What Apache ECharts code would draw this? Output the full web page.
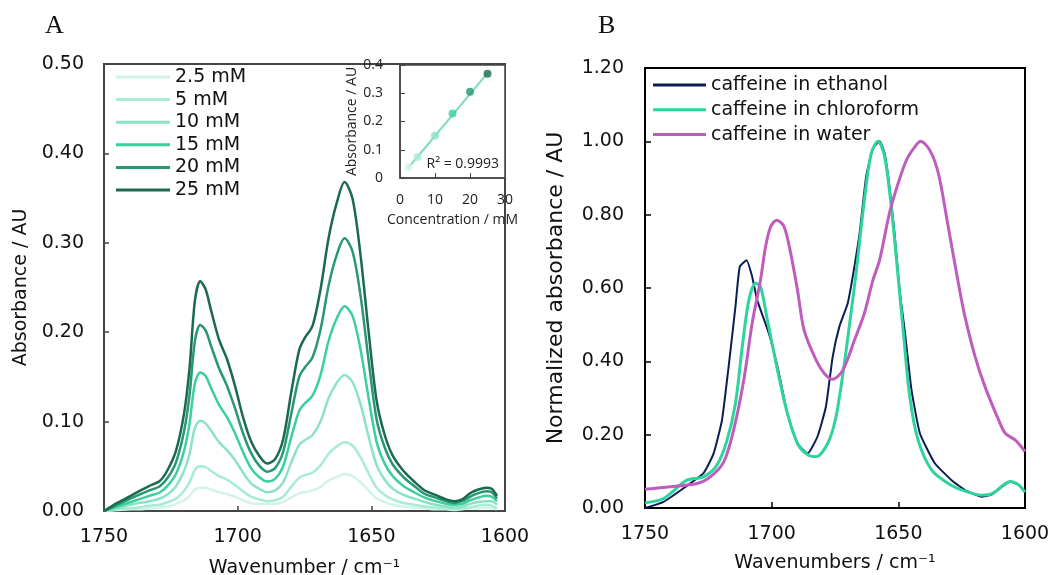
<!DOCTYPE html>
<html><head><meta charset="utf-8">
<script src="https://cdn.jsdelivr.net/npm/echarts@6/dist/echarts.min.js"></script>
<style>html,body{margin:0;padding:0;background:#fff}#c{width:1052px;height:575px}</style>
</head><body><div id="c"></div><script>
// ---------- Panel A data ----------
const wnA = [1750,1745,1740,1737,1733,1729,1726,1723,1720,1718,1716,1714,1712,1710,1707,1704,1701,1698,1695,1692,1689,1686,1683,1680,1677,1675,1672,1669,1666,1663,1660,1657,1654,1651,1648,1645,1642,1638,1634,1630,1626,1622,1619,1616,1613,1610,1607,1605,1603];
const abs2_5 = [0,0.001,0.002,0.002,0.003,0.004,0.005,0.008,0.012,0.017,0.024,0.026,0.026,0.024,0.021,0.019,0.016,0.012,0.009,0.008,0.0075,0.008,0.010,0.015,0.020,0.021,0.023,0.027,0.034,0.038,0.041,0.039,0.032,0.023,0.014,0.010,0.007,0.005,0.004,0.003,0.002,0.002,0.001,0.002,0.003,0.003,0.004,0.003,0.002];
const abs5 = [0,0.002,0.003,0.004,0.006,0.007,0.010,0.014,0.023,0.032,0.046,0.050,0.049,0.045,0.039,0.035,0.029,0.022,0.016,0.013,0.011,0.012,0.016,0.027,0.037,0.040,0.043,0.051,0.064,0.072,0.077,0.073,0.060,0.042,0.026,0.018,0.013,0.009,0.007,0.005,0.004,0.003,0.002,0.003,0.004,0.006,0.007,0.006,0.003];
const abs10 = [0,0.003,0.007,0.009,0.011,0.014,0.019,0.028,0.045,0.064,0.093,0.101,0.098,0.090,0.077,0.068,0.057,0.043,0.031,0.025,0.021,0.023,0.032,0.054,0.074,0.079,0.085,0.100,0.126,0.143,0.152,0.144,0.119,0.083,0.051,0.035,0.025,0.018,0.014,0.010,0.007,0.005,0.004,0.005,0.008,0.010,0.011,0.011,0.007];
const abs15 = [0,0.005,0.010,0.013,0.017,0.021,0.029,0.042,0.068,0.098,0.143,0.155,0.151,0.138,0.119,0.105,0.087,0.066,0.048,0.038,0.033,0.036,0.050,0.082,0.112,0.120,0.129,0.152,0.190,0.215,0.229,0.218,0.180,0.126,0.077,0.053,0.039,0.028,0.021,0.015,0.011,0.008,0.007,0.008,0.012,0.015,0.017,0.016,0.011];
const abs20 = [0,0.007,0.014,0.018,0.023,0.028,0.038,0.055,0.090,0.130,0.190,0.208,0.202,0.185,0.160,0.140,0.115,0.087,0.065,0.051,0.044,0.048,0.066,0.108,0.150,0.160,0.172,0.203,0.252,0.286,0.305,0.290,0.240,0.168,0.102,0.071,0.052,0.038,0.028,0.019,0.015,0.011,0.009,0.011,0.016,0.020,0.022,0.021,0.014];
const abs25 = [0,0.009,0.017,0.022,0.028,0.034,0.047,0.068,0.110,0.160,0.235,0.257,0.248,0.225,0.192,0.170,0.140,0.105,0.078,0.062,0.053,0.058,0.080,0.132,0.180,0.193,0.207,0.248,0.305,0.344,0.368,0.349,0.285,0.200,0.123,0.085,0.062,0.045,0.033,0.023,0.018,0.013,0.011,0.013,0.020,0.024,0.026,0.025,0.017];
const concNames = ['2.5 mM','5 mM','10 mM','15 mM','20 mM','25 mM'];
const yTicksA = [0, 0.1, 0.2, 0.3, 0.4, 0.5];
// inset calibration
const concValues = [2.5, 5, 10, 15, 20, 25];
const peakAbs = [0.038, 0.074, 0.150, 0.228, 0.305, 0.369];
const trendConc = [2.5, 25];
const trendAbs = [0.038, 0.371];
const r2Label = 'R² = 0.9993';
// ---------- Panel B data ----------
const wnEth = [1750,1742.7,1734.8,1726.9,1722.9,1719.6,1717,1714.3,1712.6,1709.9,1707.7,1705.7,1701.1,1697.7,1693.8,1689.8,1685.8,1681.9,1678.6,1675.9,1673.3,1670,1668,1665.3,1662.7,1660,1657.4,1655.4,1653.5,1651.5,1649.5,1647.5,1644.8,1641.5,1635.6,1629,1623.7,1617,1613,1605.8,1602.5,1600];
const normEth = [0.000,0.017,0.054,0.095,0.149,0.240,0.385,0.549,0.658,0.676,0.631,0.567,0.476,0.385,0.258,0.176,0.149,0.195,0.276,0.413,0.494,0.558,0.631,0.749,0.904,0.981,1.000,0.967,0.876,0.749,0.594,0.485,0.322,0.204,0.122,0.076,0.049,0.031,0.037,0.072,0.063,0.043];
const wnChl = [1750,1742.7,1733.5,1726.9,1721.6,1717.6,1714.3,1711.6,1709,1706.3,1704.4,1701.7,1697.7,1693.8,1689.8,1685.8,1682.5,1677.9,1674.6,1671.3,1668.7,1666.7,1663.4,1660.7,1658,1655.4,1652.8,1650.1,1648.1,1645.5,1642.2,1636.9,1630.3,1623.7,1617,1613,1605.8,1602.5,1600];
const normChl = [0.014,0.026,0.076,0.085,0.117,0.185,0.285,0.440,0.567,0.613,0.604,0.513,0.376,0.258,0.176,0.145,0.140,0.176,0.249,0.395,0.531,0.640,0.840,0.967,1.000,0.958,0.822,0.631,0.485,0.304,0.185,0.104,0.067,0.046,0.035,0.039,0.072,0.063,0.043];
const wnWat = [1750,1740.1,1729.5,1724.2,1718.9,1715,1711,1707.7,1704.4,1702.4,1700.4,1698,1695.1,1692.5,1689.8,1687.2,1682.5,1679.2,1675.9,1671.9,1667.3,1663.4,1660,1657.4,1653.5,1650.1,1646.8,1643.5,1641.2,1637.6,1634.2,1630.3,1626.3,1623.7,1619.7,1615.8,1610.4,1607.8,1603.8,1600];
const normWat = [0.051,0.058,0.067,0.085,0.126,0.213,0.349,0.504,0.622,0.713,0.767,0.785,0.767,0.695,0.594,0.485,0.404,0.367,0.351,0.376,0.458,0.531,0.622,0.676,0.804,0.885,0.949,0.985,1.000,0.976,0.913,0.767,0.613,0.522,0.413,0.331,0.240,0.204,0.185,0.154];
const solventNames = ['caffeine in ethanol','caffeine in chloroform','caffeine in water'];
const yTicksB = [0, 0.2, 0.4, 0.6, 0.8, 1.0, 1.2];

// ---------- styles ----------
const concColors = ['#d2f4e7','#a8ecd4','#8be3c4','#3ccf9c','#27986f','#1b6a4f'];
const solventColors = ['#0b1d57','#2fd39e','#bf5dbf'];
const FONT = 'DejaVu Sans';
const INSET_FONT = 'Open Sans';
const pair = (xs, ys) => xs.map((x, i) => [x, ys[i]]);
const plain = v => String(v);

const chart = echarts.init(document.getElementById('c'), null, {renderer: 'canvas'});
const absA = [abs2_5, abs5, abs10, abs15, abs20, abs25];
const normB = [[wnEth, normEth], [wnChl, normChl], [wnWat, normWat]];

const series = [];
absA.forEach((arr, i) => series.push({
  type: 'line', name: concNames[i], xAxisIndex: 0, yAxisIndex: 0,
  data: pair(wnA, arr), symbol: 'none', smooth: 0.3,
  lineStyle: {color: concColors[i], width: 2.5}, itemStyle: {color: concColors[i]}
}));
series.push({
  type: 'line', name: 'fit', xAxisIndex: 1, yAxisIndex: 1,
  data: pair(trendConc, trendAbs), symbol: 'none',
  lineStyle: {color: '#7fdcbc', width: 2}, z: 5
});
series.push({
  type: 'scatter', name: 'peak', xAxisIndex: 1, yAxisIndex: 1, symbolSize: 8,
  data: concValues.map((c, i) => ({value: [c, peakAbs[i]], itemStyle: {color: concColors[i]}})), z: 6
});
normB.forEach((d, i) => series.push({
  type: 'line', name: solventNames[i], xAxisIndex: 2, yAxisIndex: 2,
  data: pair(d[0], d[1]), symbol: 'none', smooth: i === 0 ? 0.15 : 0.3,
  lineStyle: {color: solventColors[i], width: i === 0 ? 2 : 3}, itemStyle: {color: solventColors[i]}
}));

const axisA = '#454545';
const option = {
  backgroundColor: '#fff',
  animation: false,
  grid: [
    {left: 104, top: 64, width: 401, height: 447, show: true, borderColor: axisA, borderWidth: 2, backgroundColor: 'transparent', outerBoundsMode: 'none', containLabel: false},
    {left: 400, top: 65, width: 105, height: 113, show: true, borderColor: axisA, borderWidth: 1.5, backgroundColor: '#fff', z: 3, outerBoundsMode: 'none', containLabel: false},
    {left: 645, top: 68, width: 380, height: 440, show: true, borderColor: '#000', borderWidth: 2, backgroundColor: 'transparent', outerBoundsMode: 'none', containLabel: false}
  ],
  xAxis: [
    {gridIndex: 0, type: 'value', min: 1600, max: 1750, interval: 50, inverse: true,
     name: 'Wavenumber / cm⁻¹', nameLocation: 'middle', nameGap: 48,
     nameTextStyle: {fontFamily: FONT, fontSize: 19, color: '#111'},
     axisLine: {lineStyle: {color: axisA, width: 2}}, axisTick: {inside: true, length: 5, lineStyle: {color: axisA, width: 1.5}},
     axisLabel: {fontFamily: FONT, fontSize: 19, color: '#111', margin: 17, formatter: plain}, splitLine: {show: false}},
    {gridIndex: 1, type: 'value', min: 0, max: 30, interval: 10,
     name: 'Concentration / mM', nameLocation: 'middle', nameGap: 35,
     nameTextStyle: {fontFamily: INSET_FONT, fontSize: 14, color: '#222'},
     axisLine: {lineStyle: {color: axisA, width: 1.5}}, axisTick: {inside: true, length: 5, lineStyle: {color: axisA}},
     axisLabel: {fontFamily: INSET_FONT, fontSize: 14, color: '#222', margin: 15, formatter: plain}, splitLine: {show: false}, z: 4},
    {gridIndex: 2, type: 'value', min: 1600, max: 1750, interval: 50, inverse: true,
     name: 'Wavenumbers / cm⁻¹', nameLocation: 'middle', nameGap: 46,
     nameTextStyle: {fontFamily: FONT, fontSize: 19, color: '#111'},
     axisLine: {lineStyle: {color: '#000', width: 2}}, axisTick: {inside: true, length: 6, lineStyle: {color: '#000', width: 1.5}},
     axisLabel: {fontFamily: FONT, fontSize: 19, color: '#111', margin: 17, formatter: plain}, splitLine: {show: false}}
  ],
  yAxis: [
    {gridIndex: 0, type: 'value', min: yTicksA[0], max: yTicksA[yTicksA.length - 1], interval: 0.1,
     name: 'Absorbance / AU', nameLocation: 'middle', nameGap: 73,
     nameTextStyle: {fontFamily: FONT, fontSize: 19, color: '#111'},
     axisLine: {lineStyle: {color: axisA, width: 2}}, axisTick: {inside: true, length: 5, lineStyle: {color: axisA, width: 1.5}},
     axisLabel: {fontFamily: FONT, fontSize: 19, color: '#111', margin: 20, formatter: v => v.toFixed(2)}, splitLine: {show: false}},
    {gridIndex: 1, type: 'value', min: 0, max: 0.4, interval: 0.1,
     name: 'Absorbance / AU', nameLocation: 'middle', nameGap: 38,
     nameTextStyle: {fontFamily: INSET_FONT, fontSize: 14, color: '#222'},
     axisLine: {lineStyle: {color: axisA, width: 1.5}}, axisTick: {inside: true, length: 5, lineStyle: {color: axisA}},
     axisLabel: {fontFamily: INSET_FONT, fontSize: 14, color: '#222', margin: 17, formatter: v => v === 0 ? '0' : String(+v.toFixed(1))}, splitLine: {show: false}, z: 4},
    {gridIndex: 2, type: 'value', min: yTicksB[0], max: yTicksB[yTicksB.length - 1], interval: 0.2,
     name: 'Normalized absorbance / AU', nameLocation: 'middle', nameGap: 78,
     nameTextStyle: {fontFamily: FONT, fontSize: 22, color: '#111'},
     axisLine: {lineStyle: {color: '#000', width: 2}}, axisTick: {inside: true, length: 6, lineStyle: {color: '#000', width: 1.5}},
     axisLabel: {fontFamily: FONT, fontSize: 19, color: '#111', margin: 21, formatter: v => v.toFixed(2)}, splitLine: {show: false}}
  ],
  legend: [
    {data: concNames, orient: 'vertical', left: 116, top: 67, icon: 'rect', itemWidth: 54, itemHeight: 3,
     itemGap: 2.6, itemTextGap: 5, padding: 0, selectedMode: false,
     textStyle: {fontFamily: FONT, fontSize: 19, color: '#111', lineHeight: 20}},
    {data: solventNames, orient: 'vertical', left: 653, top: 75, icon: 'rect', itemWidth: 53, itemHeight: 3,
     itemGap: 4.8, itemTextGap: 5, padding: 0, selectedMode: false,
     textStyle: {fontFamily: FONT, fontSize: 19, color: '#111', lineHeight: 20}}
  ],
  graphic: [
    {type: 'text', left: 45, top: 13, style: {text: 'A', font: '26px "Liberation Serif"', fill: '#111'}},
    {type: 'text', left: 598, top: 13, style: {text: 'B', font: '26px "Liberation Serif"', fill: '#111'}},
    {type: 'text', right: 1052 - 499, top: 157, z: 10, style: {text: r2Label, font: '14px "Open Sans"', fill: '#222'}}
  ],
  series: series
};
chart.setOption(option);
</script></body></html>
